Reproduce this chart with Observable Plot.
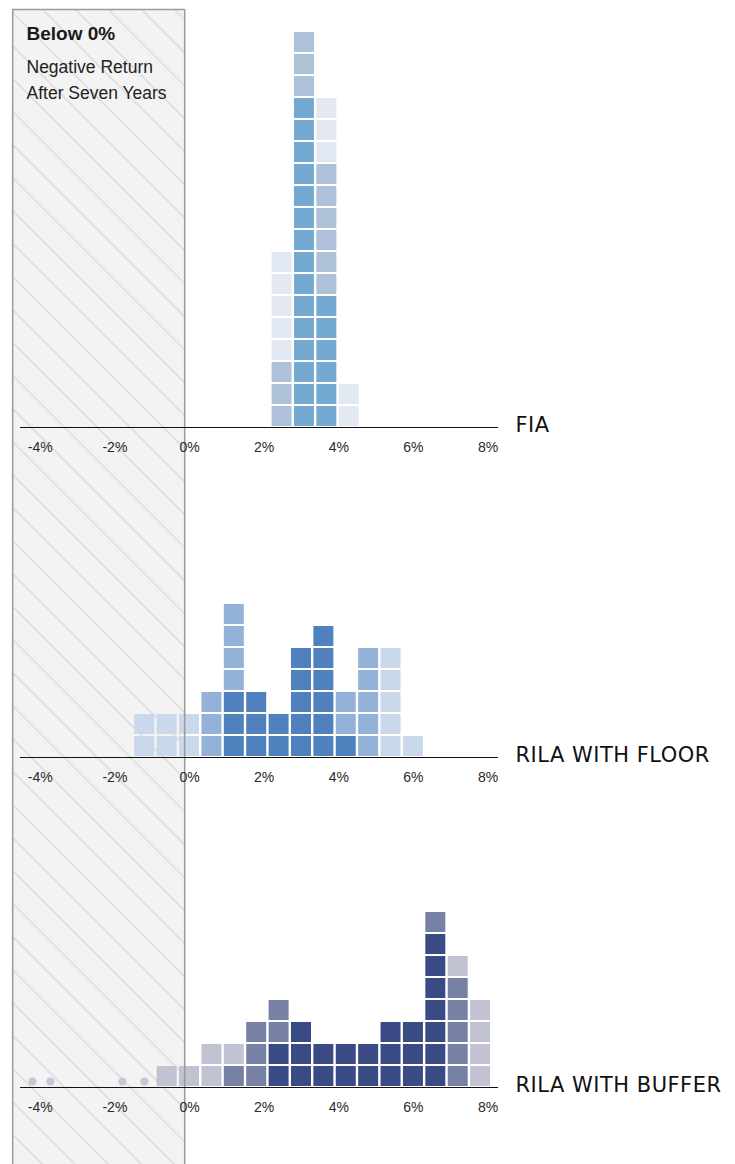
<!DOCTYPE html>
<html>
<head>
<meta charset="utf-8">
<script src="https://cdn.jsdelivr.net/npm/d3@7"></script>
<script src="https://cdn.jsdelivr.net/npm/@observablehq/plot@0.6"></script>
<style>
  body { margin: 0; background: #fff; }
  #chart { width: 735px; height: 1164px; }
</style>
</head>
<body>
<div id="chart"></div>
<script>
// ---------- data ----------
const panels = ["FIA", "RILA WITH FLOOR", "RILA WITH BUFFER"];
const tickValues = [-4, -2, 0, 2, 4, 6, 8];
const binWidth = 0.6; // % per column

// FIA
const fiaBins  = [2.48, 3.08, 3.68, 4.28];
const fiaDark  = [0, 15, 6, 0];
const fiaMid   = [3, 3, 6, 0];
const fiaLight = [5, 0, 3, 2];

// RILA WITH FLOOR
const floorBins  = [-1.2, -0.6, 0, 0.6, 1.2, 1.8, 2.4, 3.0, 3.6, 4.2, 4.8, 5.4, 6.0];
const floorDark  = [0, 0, 0, 0, 3, 3, 2, 5, 6, 1, 0, 0, 0];
const floorMid   = [0, 0, 0, 3, 4, 0, 0, 0, 0, 2, 5, 0, 0];
const floorLight = [2, 2, 2, 0, 0, 0, 0, 0, 0, 0, 0, 5, 1];

// RILA WITH BUFFER
const bufferBins  = [-0.6, 0, 0.6, 1.2, 1.8, 2.4, 3.0, 3.6, 4.2, 4.8, 5.4, 6.0, 6.6, 7.2, 7.8];
const bufferDark  = [0, 0, 0, 0, 0, 2, 3, 2, 2, 2, 3, 3, 7, 0, 0];
const bufferMid   = [0, 0, 0, 1, 3, 2, 0, 0, 0, 0, 0, 0, 1, 5, 0];
const bufferLight = [1, 1, 2, 1, 0, 0, 0, 0, 0, 0, 0, 0, 0, 1, 4];
const bufferDots  = [-4.21, -3.73, -1.8, -1.21];

const fiaColors    = ["#74aad2", "#adc1d8", "#e1e8f1"];
const floorColors  = ["#4f81be", "#94b2d7", "#c9d8eb"];
const bufferColors = ["#394a85", "#7780a5", "#c1c3d3"];
const dotColor = "#c6c7d9";

const annotationTitle = "Below 0%";
const annotationBody = "Negative Return\nAfter Seven Years";
const belowZeroBand = [-4.74, -0.13]; // shaded region, in %

// ---------- layout ----------
const W = 735, H = 1164;
const mTop = 127, mBottom = 77, mLeft = 20, mRight = 237;
const panelH = 300, gap = 30, unit = 22; // px per stacked square
const xDomain = [-4.53, 8.28];
const yMax = panelH / unit;

// ---------- build tables ----------
const series = [
  {panel: panels[0], bins: fiaBins, counts: [fiaDark, fiaMid, fiaLight], colors: fiaColors},
  {panel: panels[1], bins: floorBins, counts: [floorDark, floorMid, floorLight], colors: floorColors},
  {panel: panels[2], bins: bufferBins, counts: [bufferDark, bufferMid, bufferLight], colors: bufferColors}
];
const squares = [];
for (const s of series) {
  s.bins.forEach((b, j) => {
    let level = 0;
    s.counts.forEach((arr, t) => {
      for (let n = 0; n < arr[j]; n++) {
        squares.push({panel: s.panel, x: b, level, color: s.colors[t]});
        level++;
      }
    });
  });
}

const bandRows = panels.map((p, i) => ({
  panel: p,
  y1: i === panels.length - 1 ? -mBottom / unit : -gap / unit,
  y2: i === 0 ? (mTop + panelH - 9) / unit : yMax
}));
const edgeRows = bandRows.flatMap(r => belowZeroBand.map(x => ({...r, x})));

const chart = Plot.plot({
  width: W,
  height: H,
  marginTop: mTop,
  marginBottom: mBottom,
  marginLeft: mLeft,
  marginRight: mRight,
  x: {domain: xDomain, axis: null},
  y: {domain: [0, yMax], axis: null},
  fy: {domain: panels, axis: null, paddingInner: gap / (panelH + gap), paddingOuter: 0},
  color: {type: "identity"},
  style: {background: "transparent", fontFamily: "'Liberation Sans', Arial, Helvetica, sans-serif", overflow: "visible"},
  marks: [
    Plot.rect(bandRows, {x1: belowZeroBand[0], x2: belowZeroBand[1], y1: "y1", y2: "y2", fy: "panel", fill: "url(#hatch)"}),
    Plot.rect(squares, {
      x1: d => d.x - binWidth / 2,
      x2: d => d.x + binWidth / 2,
      y1: "level",
      y2: d => d.level + 1,
      fy: "panel",
      fill: "color",
      insetLeft: 1.2, insetRight: 1.2, insetTop: 1, insetBottom: 1
    }),
    Plot.dot(bufferDots, {x: d => d, y: 0, dy: -6, r: 4, fill: dotColor, fy: () => panels[2]}),
    Plot.ruleX(edgeRows, {x: "x", y1: "y1", y2: "y2", fy: "panel", stroke: "#9a9a9a", strokeWidth: 1.5}),
    Plot.ruleY([bandRows[0]], {y: "y2", x1: belowZeroBand[0], x2: belowZeroBand[1], fy: "panel", stroke: "#9a9a9a", strokeWidth: 1.5}),
    Plot.ruleY([0], {stroke: "#111", strokeWidth: 1.2}),
    Plot.text(tickValues, {x: d => d, y: 0, text: d => `${d}%`, dy: 20, fontSize: 14, fill: "#2a2a2a"}),
    Plot.text(panels, {
      fy: d => d, x: xDomain[1], y: 0, text: d => d,
      textAnchor: "start", dx: 17, dy: -2, fontSize: 21,
      fontFamily: "'DejaVu Sans', sans-serif", fill: "#111"
    }),
    Plot.text([annotationTitle], {
      fy: () => panels[0], frameAnchor: "top-left", text: d => d,
      textAnchor: "start", lineAnchor: "top", dx: 6, dy: -101,
      fontSize: 19, fontWeight: "bold", fill: "#1a1a1a"
    }),
    Plot.text([annotationBody], {
      fy: () => panels[0], frameAnchor: "top-left", text: d => d,
      textAnchor: "start", lineAnchor: "top", dx: 6, dy: -72.7,
      fontSize: 17.5, lineHeight: 26 / 17.5, fill: "#222"
    })
  ]
});

const svg = chart.tagName.toLowerCase() === "svg" ? chart : chart.querySelector("svg");
const ns = "http://www.w3.org/2000/svg";
const defs = document.createElementNS(ns, "defs");
defs.innerHTML = '<pattern id="hatch" patternUnits="userSpaceOnUse" width="33" height="33">' +
  '<rect width="33" height="33" fill="#f3f3f3"/>' +
  '<path d="M-4,-4L37,37M-4,29L4,37M29,-4L37,4" stroke="#dfdfdf" stroke-width="1.8" fill="none"/>' +
  '</pattern>';
svg.insertBefore(defs, svg.firstChild);
svg.querySelectorAll("text").forEach(t => {
  if (panels.includes(t.textContent)) t.setAttribute("letter-spacing", "0.5");
});
document.getElementById("chart").appendChild(chart);
</script>
</body>
</html>
